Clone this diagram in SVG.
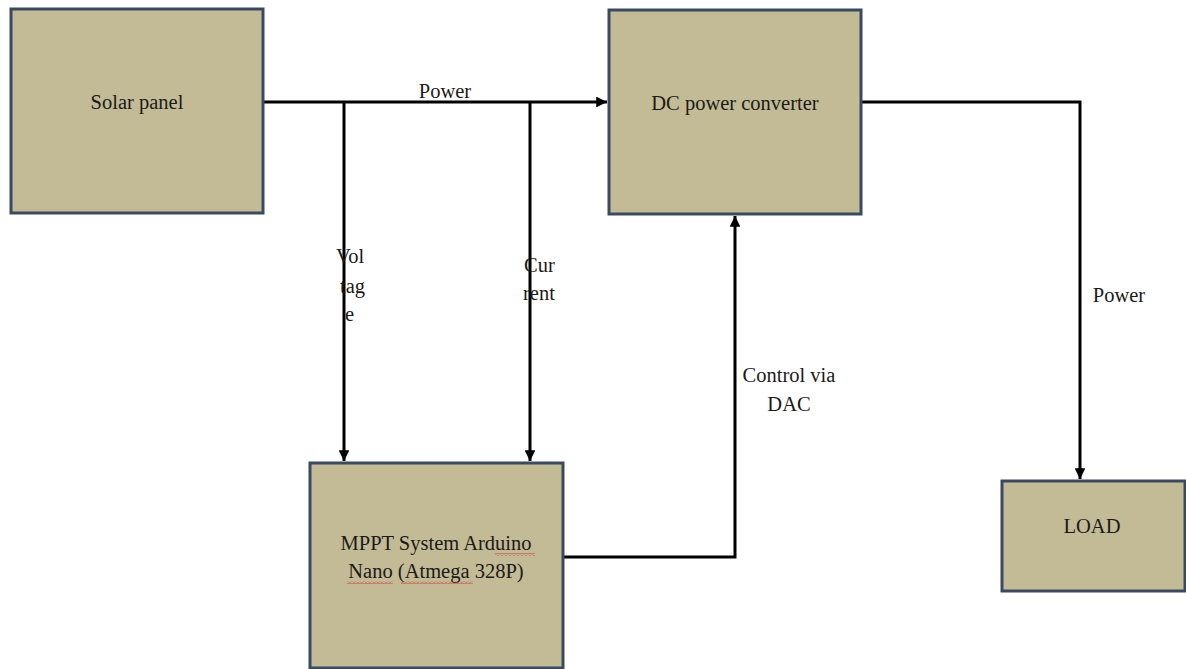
<svg xmlns="http://www.w3.org/2000/svg" width="1186" height="669" viewBox="0 0 1186 669">
<defs>
<marker id="arr" viewBox="0 0 10 10" refX="10" refY="5" markerWidth="4" markerHeight="3.6" orient="auto" markerUnits="strokeWidth">
<path d="M0,0 L10,5 L0,10 z" fill="#000"/>
</marker>
<pattern id="sq" width="4" height="3" patternUnits="userSpaceOnUse"><path d="M0,2.5 L2,0.5 L4,2.5" fill="none" stroke="#d02020" stroke-width="0.8"/></pattern>
</defs>
<style>
.box{fill:#c2bb96;stroke:#3a4a60;stroke-width:3}
.t{font-family:'Liberation Serif','Tinos','DejaVu Serif',serif;font-size:20.5px;fill:#1c1a16}
.w{fill:none;stroke:#000;stroke-width:3}
</style>
<rect width="1186" height="669" fill="#fff"/>
<g id="connectors">
<path class="w" d="M263,102 H607" marker-end="url(#arr)"/>
<path class="w" d="M344,102 V461" marker-end="url(#arr)"/>
<path class="w" d="M530,102 V461" marker-end="url(#arr)"/>
<path class="w" d="M861,102 H1080 V479" marker-end="url(#arr)"/>
<path class="w" d="M563,557 H735 V216" marker-end="url(#arr)"/>
<text class="t" x="445" y="98" text-anchor="middle">Power</text>
<text class="t" x="336" y="263">Vol</text>
<text class="t" x="340" y="293">tag</text>
<text class="t" x="345" y="321">e</text>
<text class="t" x="524" y="272">Cur</text>
<text class="t" x="523" y="300">rent</text>
<text class="t" x="789" y="382" text-anchor="middle">Control via</text>
<text class="t" x="789" y="411" text-anchor="middle">DAC</text>
<text class="t" x="1119" y="302" text-anchor="middle">Power</text>
</g>
<g id="solar">
<rect class="box" x="11" y="9" width="252" height="204"/>
<text class="t" x="137" y="109" text-anchor="middle">Solar panel</text>
</g>
<g id="dc">
<rect class="box" x="609" y="10" width="252" height="204"/>
<text class="t" x="735" y="110" text-anchor="middle">DC power converter</text>
</g>
<g id="mppt">
<rect class="box" x="310" y="463" width="253" height="205"/>
<text class="t" x="436" y="550" text-anchor="middle">MPPT System Arduino</text>
<text class="t" x="436" y="578" text-anchor="middle">Nano (Atmega 328P)</text>
<rect x="495" y="553" width="40" height="3" fill="url(#sq)"/>
<rect x="347" y="581" width="46" height="3" fill="url(#sq)"/>
<rect x="401" y="581" width="72" height="3" fill="url(#sq)"/>
</g>
<g id="load">
<rect class="box" x="1002" y="481" width="183" height="110"/>
<text class="t" x="1092" y="533" text-anchor="middle">LOAD</text>
</g>
</svg>
